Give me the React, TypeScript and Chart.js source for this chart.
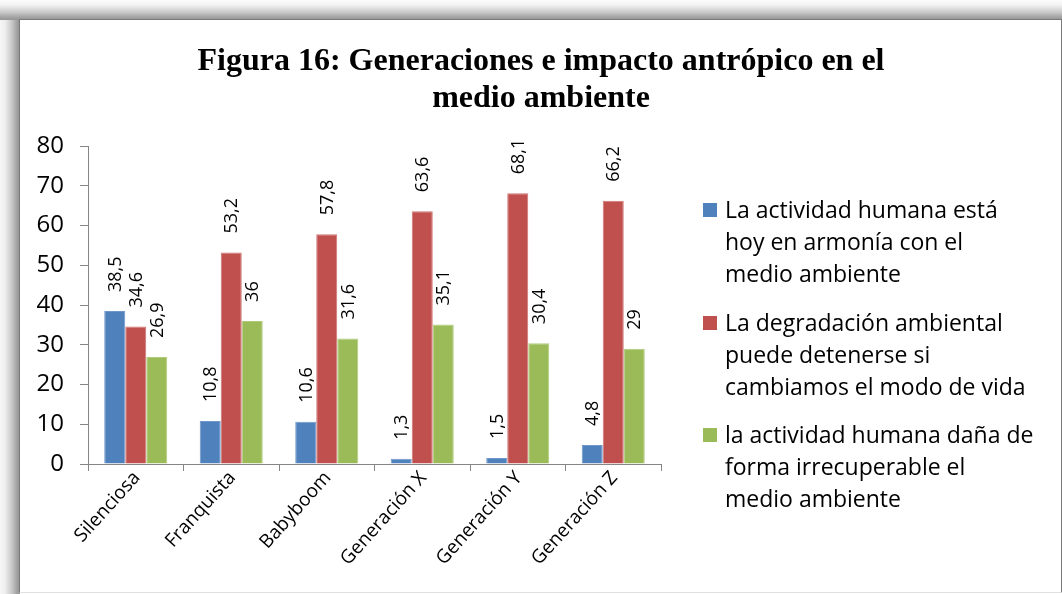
import React, { useEffect, useRef } from "react";
import { Chart, registerables } from "chart.js";

Chart.register(...registerables);

const categories = ["Silenciosa", "Franquista", "Babyboom", "Generación X", "Generación Y", "Generación Z"];
const seriesArmonia = [38.5, 10.8, 10.6, 1.3, 1.5, 4.8];
const seriesDetenerse = [34.6, 53.2, 57.8, 63.6, 68.1, 66.2];
const seriesIrrecuperable = [26.9, 36, 31.6, 35.1, 30.4, 29];
const seriesNames = [
  ["La actividad humana está", "hoy en armonía con el", "medio ambiente"],
  ["La degradación ambiental", "puede detenerse si", "cambiamos el modo de vida"],
  ["la actividad humana daña de", "forma irrecuperable el", "medio ambiente"],
];
const seriesColors = ["#4F81BD", "#C0504D", "#9BBB59"];
const seriesEdges = ["#6f97c9", "#cf7472", "#b0cb7c"];
const titleLines = ["Figura 16: Generaciones e impacto antrópico en el", "medio ambiente"];
const yTicks = [0, 10, 20, 30, 40, 50, 60, 70, 80];

const FONT = '"Open Sans", "Noto Sans", sans-serif';

const fmt = (v: number) => String(v).replace(".", ",");

const labelsPlugin = {
  id: "barLabels",
  afterDatasetsDraw(chart: any) {
    const ctx = chart.ctx;
    ctx.save();
    ctx.font = `18px ${FONT}`;
    ctx.fillStyle = "#000";
    ctx.textAlign = "left";
    ctx.textBaseline = "middle";
    chart.data.datasets.forEach((ds: any, di: number) => {
      const meta = chart.getDatasetMeta(di);
      meta.data.forEach((el: any, i: number) => {
        const v = ds.data[i];
        ctx.save();
        ctx.translate(el.x + 1, el.y - 19);
        ctx.rotate(-Math.PI / 2);
        ctx.fillText(fmt(v), 0, 0);
        ctx.restore();
      });
    });
    ctx.restore();
  },
};

const titleLegendPlugin = {
  id: "titleLegend",
  afterDraw(chart: any) {
    const ctx = chart.ctx;
    ctx.save();
    ctx.fillStyle = "#000";
    ctx.textAlign = "center";
    ctx.textBaseline = "alphabetic";
    ctx.font = 'bold 32px "Liberation Serif", "Times New Roman", serif';
    ctx.fillText(titleLines[0], 541, 70);
    ctx.fillText(titleLines[1], 541, 107);

    ctx.textAlign = "left";
    ctx.font = `23px ${FONT}`;
    const starts = [218, 331, 443];
    seriesNames.forEach((lines, si) => {
      const base = starts[si];
      ctx.fillStyle = seriesColors[si];
      ctx.fillRect(703, base - 15, 14, 14);
      ctx.fillStyle = "#000";
      lines.forEach((ln, li) => {
        ctx.fillText(ln, 725, base + li * 32);
      });
    });
    ctx.restore();
  },
};

export default function App() {
  const ref = useRef<HTMLCanvasElement | null>(null);
  useEffect(() => {
    if (!ref.current) return;
    const data = [seriesArmonia, seriesDetenerse, seriesIrrecuperable];
    const chart = new Chart(ref.current, {
      type: "bar",
      data: {
        labels: categories,
        datasets: data.map((d, i) => ({
          label: seriesNames[i].join(" "),
          data: d,
          backgroundColor: seriesColors[i],
          borderColor: seriesEdges[i],
          borderWidth: { top: 1, left: 1, right: 1, bottom: 0 },
          borderSkipped: "bottom",
          barPercentage: 1,
          categoryPercentage: 0.66,
        })),
      },
      options: {
        responsive: false,
        animation: false,
        layout: { padding: { left: 20, right: 401, top: 146, bottom: 20 } },
        plugins: {
          legend: { display: false },
          title: { display: false },
          tooltip: { enabled: false },
        },
        scales: {
          x: {
            grid: {
              display: true,
              drawOnChartArea: false,
              drawTicks: true,
              tickLength: 7,
              color: "#868686",
              offset: true,
            },
            border: { color: "#868686", width: 1 },
            ticks: {
              color: "#000",
              font: { family: FONT, size: 19 },
              minRotation: 48,
              maxRotation: 48,
              autoSkip: false,
              padding: -4,
              labelOffset: 1,
            },
            afterFit(scale: any) {
              scale.height = 110;
            },
          },
          y: {
            min: 0,
            max: 80,
            afterBuildTicks(scale: any) {
              scale.ticks = yTicks.map((v) => ({ value: v }));
            },
            grid: {
              display: true,
              drawOnChartArea: false,
              drawTicks: true,
              tickLength: 8,
              color: "#868686",
            },
            border: { color: "#868686", width: 1 },
            ticks: {
              color: "#000",
              font: { family: FONT, size: 24 },
              padding: 16,
            },
            afterFit(scale: any) {
              scale.width = 68;
            },
          },
        },
      },
      plugins: [labelsPlugin, titleLegendPlugin],
    });
    return () => chart.destroy();
  }, []);

  return (
    <div style={{ position: "fixed", left: 0, top: 0, width: 1062, height: 594, background: "#fff", overflow: "hidden" }}>
      <div
        style={{
          position: "absolute",
          left: 0,
          top: 0,
          width: 20,
          height: 594,
          background: "linear-gradient(to right, #f6f6f6 0px, #eeeeee 5px, #d8d8d8 9px, #c0c0c0 13px, #a8a8a8 16px, #959595 19px)",
        }}
      />
      <div
        style={{
          position: "absolute",
          left: 0,
          top: 0,
          width: 1062,
          height: 20,
          background: "linear-gradient(to bottom, #fcfcfc 0px, #f2f2f2 5px, #dcdcdc 9px, #c4c4c4 13px, #acacac 16px, #989898 19px)",
        }}
      />
      <div
        style={{
          position: "absolute",
          left: 19,
          top: 19,
          width: 1041,
          height: 572,
          borderLeft: "1px solid #7a7a7a",
          borderTop: "1px solid #7a7a7a",
          borderRight: "2px solid #7a7a7a",
          borderBottom: "1px solid #e0e0e0",
          background: "#fff",
        }}
      />
      <canvas ref={ref} width={1062} height={594} style={{ position: "absolute", left: 0, top: 0, width: 1062, height: 594 }} />
    </div>
  );
}
